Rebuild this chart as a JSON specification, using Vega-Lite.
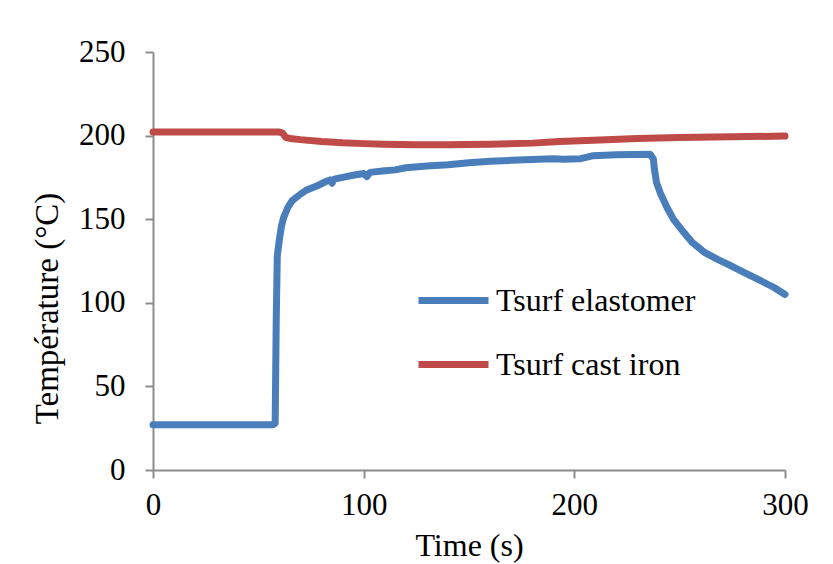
{
  "$schema": "https://vega.github.io/schema/vega-lite/v6.json",
  "width": 632,
  "height": 418,
  "autosize": "none",
  "padding": {"left": 153, "top": 52, "right": 48, "bottom": 94},
  "background": "white",
  "config": {
    "view": {"stroke": null},
    "font": "Liberation Serif",
    "axis": {
      "grid": false,
      "domainColor": "#8c8c8c",
      "domainWidth": 2,
      "tickColor": "#8c8c8c",
      "tickWidth": 2,
      "tickSize": 8,
      "labelFont": "Liberation Serif",
      "labelFontSize": 31,
      "labelColor": "black",
      "labelFlush": false,
      "titleFont": "Liberation Serif",
      "titleFontSize": 32,
      "titleFontWeight": "normal",
      "titleColor": "black"
    }
  },
  "data": {
    "values": [
      {"t": 0, "v": 27, "s": "Tsurf elastomer"},
      {"t": 57, "v": 27, "s": "Tsurf elastomer"},
      {"t": 58, "v": 28, "s": "Tsurf elastomer"},
      {"t": 58.5, "v": 90, "s": "Tsurf elastomer"},
      {"t": 59, "v": 128, "s": "Tsurf elastomer"},
      {"t": 60, "v": 138, "s": "Tsurf elastomer"},
      {"t": 61, "v": 146, "s": "Tsurf elastomer"},
      {"t": 62, "v": 151, "s": "Tsurf elastomer"},
      {"t": 64, "v": 157, "s": "Tsurf elastomer"},
      {"t": 66, "v": 161, "s": "Tsurf elastomer"},
      {"t": 70, "v": 165, "s": "Tsurf elastomer"},
      {"t": 73, "v": 167.5, "s": "Tsurf elastomer"},
      {"t": 78, "v": 170, "s": "Tsurf elastomer"},
      {"t": 82, "v": 172.5, "s": "Tsurf elastomer"},
      {"t": 84, "v": 173.5, "s": "Tsurf elastomer"},
      {"t": 85, "v": 171.5, "s": "Tsurf elastomer"},
      {"t": 86, "v": 174, "s": "Tsurf elastomer"},
      {"t": 90, "v": 175, "s": "Tsurf elastomer"},
      {"t": 95, "v": 176.3, "s": "Tsurf elastomer"},
      {"t": 100, "v": 177.3, "s": "Tsurf elastomer"},
      {"t": 101.5, "v": 175.5, "s": "Tsurf elastomer"},
      {"t": 103, "v": 178, "s": "Tsurf elastomer"},
      {"t": 110, "v": 179, "s": "Tsurf elastomer"},
      {"t": 115, "v": 179.5, "s": "Tsurf elastomer"},
      {"t": 120, "v": 180.8, "s": "Tsurf elastomer"},
      {"t": 130, "v": 181.8, "s": "Tsurf elastomer"},
      {"t": 140, "v": 182.6, "s": "Tsurf elastomer"},
      {"t": 150, "v": 183.8, "s": "Tsurf elastomer"},
      {"t": 160, "v": 184.6, "s": "Tsurf elastomer"},
      {"t": 170, "v": 185.2, "s": "Tsurf elastomer"},
      {"t": 180, "v": 185.7, "s": "Tsurf elastomer"},
      {"t": 190, "v": 186.2, "s": "Tsurf elastomer"},
      {"t": 195, "v": 185.8, "s": "Tsurf elastomer"},
      {"t": 203, "v": 186.2, "s": "Tsurf elastomer"},
      {"t": 209, "v": 188, "s": "Tsurf elastomer"},
      {"t": 220, "v": 188.5, "s": "Tsurf elastomer"},
      {"t": 236, "v": 188.8, "s": "Tsurf elastomer"},
      {"t": 237.5, "v": 186, "s": "Tsurf elastomer"},
      {"t": 238, "v": 180, "s": "Tsurf elastomer"},
      {"t": 239, "v": 172, "s": "Tsurf elastomer"},
      {"t": 241, "v": 165, "s": "Tsurf elastomer"},
      {"t": 244, "v": 157, "s": "Tsurf elastomer"},
      {"t": 247, "v": 150, "s": "Tsurf elastomer"},
      {"t": 252, "v": 142, "s": "Tsurf elastomer"},
      {"t": 256, "v": 136, "s": "Tsurf elastomer"},
      {"t": 262, "v": 130, "s": "Tsurf elastomer"},
      {"t": 268, "v": 126, "s": "Tsurf elastomer"},
      {"t": 273, "v": 123, "s": "Tsurf elastomer"},
      {"t": 280, "v": 118.5, "s": "Tsurf elastomer"},
      {"t": 288, "v": 113.5, "s": "Tsurf elastomer"},
      {"t": 295, "v": 109, "s": "Tsurf elastomer"},
      {"t": 300, "v": 105, "s": "Tsurf elastomer"},
      {"t": 0, "v": 202.2, "s": "Tsurf cast iron"},
      {"t": 60, "v": 202.2, "s": "Tsurf cast iron"},
      {"t": 61.5, "v": 201.5, "s": "Tsurf cast iron"},
      {"t": 63, "v": 199, "s": "Tsurf cast iron"},
      {"t": 65, "v": 198.3, "s": "Tsurf cast iron"},
      {"t": 70, "v": 197.6, "s": "Tsurf cast iron"},
      {"t": 80, "v": 196.5, "s": "Tsurf cast iron"},
      {"t": 90, "v": 195.7, "s": "Tsurf cast iron"},
      {"t": 100, "v": 195.2, "s": "Tsurf cast iron"},
      {"t": 110, "v": 194.8, "s": "Tsurf cast iron"},
      {"t": 125, "v": 194.5, "s": "Tsurf cast iron"},
      {"t": 140, "v": 194.5, "s": "Tsurf cast iron"},
      {"t": 160, "v": 194.9, "s": "Tsurf cast iron"},
      {"t": 180, "v": 195.5, "s": "Tsurf cast iron"},
      {"t": 193, "v": 196.4, "s": "Tsurf cast iron"},
      {"t": 212, "v": 197.4, "s": "Tsurf cast iron"},
      {"t": 230, "v": 198.2, "s": "Tsurf cast iron"},
      {"t": 250, "v": 198.8, "s": "Tsurf cast iron"},
      {"t": 275, "v": 199.3, "s": "Tsurf cast iron"},
      {"t": 300, "v": 199.7, "s": "Tsurf cast iron"}
    ]
  },
  "mark": {"type": "line", "strokeWidth": 7, "strokeCap": "round", "strokeJoin": "round"},
  "encoding": {
    "x": {
      "field": "t",
      "type": "quantitative",
      "scale": {"domain": [0, 300], "nice": false},
      "axis": {"values": [0, 100, 200, 300], "title": "Time (s)", "labelPadding": 12, "titleY": 85, "titleBaseline": "alphabetic"}
    },
    "y": {
      "field": "v",
      "type": "quantitative",
      "scale": {"domain": [0, 250], "nice": false},
      "axis": {"values": [0, 50, 100, 150, 200, 250], "title": "Température (°C)", "labelPadding": 20, "titleFontSize": 33, "titleX": -106, "titleY": 256, "titleAngle": 270, "titleAlign": "center", "titleBaseline": "middle"}
    },
    "color": {
      "field": "s",
      "type": "nominal",
      "scale": {"domain": ["Tsurf elastomer", "Tsurf cast iron"], "range": ["#4a7ebb", "#be4b48"]},
      "legend": {
        "title": null,
        "orient": "none",
        "legendX": 262,
        "legendY": 210,
        "symbolType": "stroke",
        "symbolSize": 4900,
        "symbolStrokeWidth": 7,
        "labelFont": "Liberation Serif",
        "labelFontSize": 32,
        "labelColor": "black",
        "labelOffset": 4,
        "rowPadding": 9,
        "labelLimit": 400
      }
    },
    "detail": {"field": "s"}
  }
}
